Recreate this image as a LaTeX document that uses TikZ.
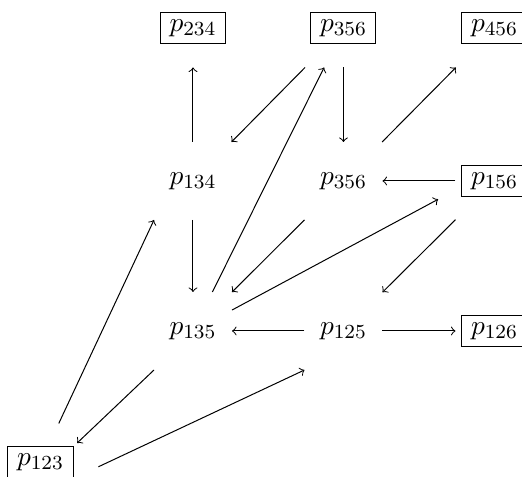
\documentclass[tikz,border=0pt]{standalone}
\begin{document}
\begin{tikzpicture}[x=0.4pt,y=-0.4pt,
  every node/.style={font=\fontsize{10.95}{13}\selectfont},
  sq/.style={minimum size=30.8pt, inner sep=0pt},
  bx/.style={draw, line width=0.4pt, minimum width=26pt, minimum height=12.4pt, inner sep=1pt},
  ar/.style={->, line width=0.4pt}]
\useasboundingbox (0,0) rectangle (522,477);
% top row
\node[sq] (A) at (193,28.5) {};
\node[bx] (Ab) at (193,28.5) {$p_{234}$};
\node[sq] (B) at (343.5,28.5) {};
\node[bx] (Bb) at (343.5,28.5) {$p_{356}$};
\node[sq] (C) at (494.5,28.5) {};
\node[bx] (Cb) at (494.5,28.5) {$p_{456}$};
% middle row
\node[sq] (D) at (193,181) {$p_{134}$};
\node[sq] (E) at (343.5,181) {$p_{356}$};
\node[sq] (F) at (494.5,181) {};
\node[bx] (Fb) at (494.5,181) {$p_{156}$};
% lower row
\node[sq] (G) at (193,331) {$p_{135}$};
\node[sq] (H) at (343.5,331) {$p_{125}$};
\node[sq] (I) at (494.5,331) {};
\node[bx] (Ib) at (494.5,331) {$p_{126}$};
% bottom
\node[sq] (Jsq) at (40.5,462.5) {};
\node[bx] (Jb) at (40.5,462.5) {$p_{123}$};
% arrows
\draw[ar] (D) -- (A);
\draw[ar] (B) -- (D);
\draw[ar] (B) -- (E);
\draw[ar] (E) -- (C);
\draw[ar] (F) -- (E);
\draw[ar] (D) -- (G);
\draw[ar] (G) -- (B);
\draw[ar] (E) -- (G);
\draw[ar, shorten >=25.6pt] (G) -- ([yshift=4.8pt]F.center);
\draw[ar] (F) -- (H);
\draw[ar] (H) -- (G);
\draw[ar] (H) -- (I);
\draw[ar, shorten >=2pt] (G.south west) -- (Jb.north east);
\draw[ar] (Jsq) -- (D.south west);
\draw[ar, shorten <=11pt] (Jb.south east) -- (H.south west);
\end{tikzpicture}
\end{document}
